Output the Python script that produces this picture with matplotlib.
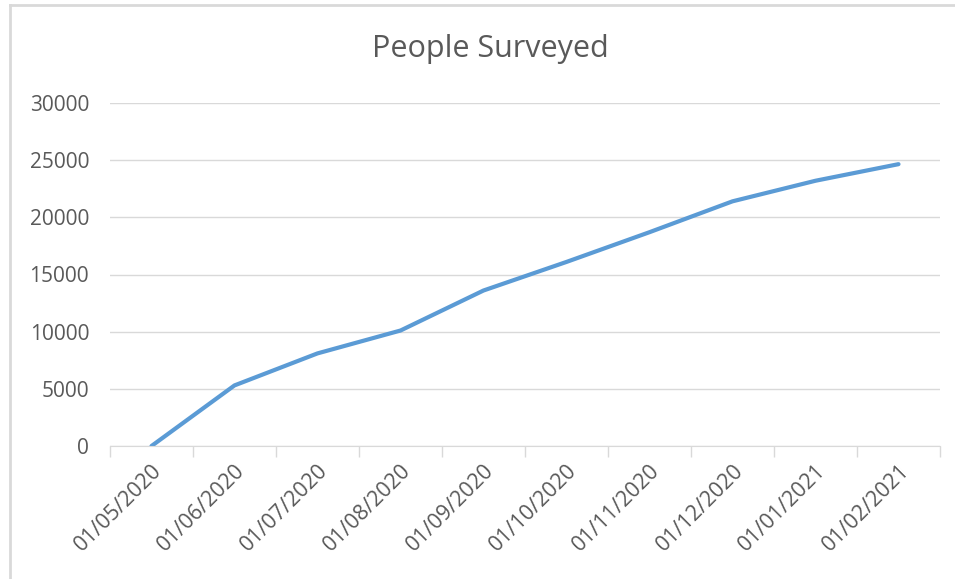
import matplotlib.pyplot as plt
from matplotlib.lines import Line2D
import numpy as np

dates = ['01/05/2020', '01/06/2020', '01/07/2020', '01/08/2020', '01/09/2020',
         '01/10/2020', '01/11/2020', '01/12/2020', '01/01/2021', '01/02/2021']
surveyed = [0, 5300, 8100, 10100, 13600, 16100, 18700, 21400, 23200, 24650]
y_ticks = [0, 5000, 10000, 15000, 20000, 25000, 30000]

plt.rcParams['font.family'] = ['Open Sans', 'DejaVu Sans']
text_col = '#595959'
grid_col = '#d9d9d9'

fig = plt.figure(figsize=(9.55, 5.79), dpi=100)
ax = fig.add_axes([110 / 955, 1 - 446 / 579, 830 / 955, 343 / 579])

x = np.arange(len(dates))
ax.plot(x, surveyed, color='#5b9bd5', lw=3, solid_capstyle='round',
        solid_joinstyle='round')

ax.set_xlim(-0.5, len(dates) - 0.5)
ax.set_ylim(0, 30000)
ax.set_yticks(y_ticks)
ax.set_yticklabels([str(v) for v in y_ticks], color=text_col, fontsize=15)
ax.tick_params(axis='y', length=0, pad=15)
ax.grid(axis='y', color=grid_col, lw=1)
ax.set_axisbelow(True)

# tick marks between categories, labels at category centres
ax.set_xticks(np.arange(-0.5, len(dates), 1.0))
ax.set_xticklabels([])
ax.tick_params(axis='x', length=8, color=grid_col, width=1)
ax.set_xticks(x, minor=True)
ax.set_xticklabels(dates, minor=True, rotation=45, ha='right', va='top',
                   rotation_mode='anchor', color=text_col, fontsize=15.5)
ax.tick_params(axis='x', which='minor', length=0, pad=10)

for side in ['top', 'right', 'left']:
    ax.spines[side].set_visible(False)
ax.spines['bottom'].set_color(grid_col)

fig.text(490 / 955, 1 - 49 / 579, 'People Surveyed', ha='center', va='center',
         fontsize=22, color=text_col)

# chart area border (left and top edges visible)
fig.add_artist(Line2D([10 / 955, 10 / 955], [0, 1 - 5 / 579], color=grid_col,
                      lw=2, transform=fig.transFigure))
fig.add_artist(Line2D([10 / 955, 1], [1 - 5 / 579, 1 - 5 / 579], color=grid_col,
                      lw=2, transform=fig.transFigure))

fig.savefig('out.png', dpi=100)
